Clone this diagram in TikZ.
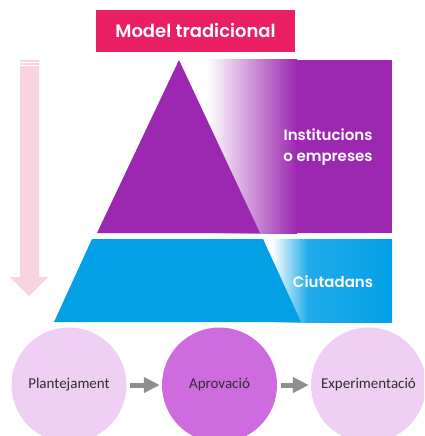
\documentclass[tikz,border=0pt]{standalone}
\usepackage{fontspec}
\setmainfont{Carlito}
\newfontfamily\headfont{Poppins}[BoldFont={Poppins SemiBold}]
\usetikzlibrary{arrows.meta}
\definecolor{titlepink}{HTML}{E91E63}
\definecolor{purp}{HTML}{9C27B0}
\definecolor{blu}{HTML}{03A0E6}
\definecolor{lblu}{HTML}{22ABE9}
\definecolor{pinkarrow}{HTML}{F9D3DF}
\definecolor{clight}{HTML}{EFCFF4}
\definecolor{cmid}{HTML}{CE6CDF}
\definecolor{garr}{HTML}{8E8E8E}
\definecolor{txt}{HTML}{2E2E2E}
\tikzset{
  headlabel/.style={text=white, font=\headfont\bfseries\fontsize{15}{21}\selectfont, align=center, inner sep=0pt},
  stepcircle/.style={circle, minimum size=115pt, inner sep=0pt, text=txt, font=\fontsize{15}{18}\selectfont},
  garrow/.style={draw=garr, line width=5pt, -{Triangle[length=16pt,width=15pt]}, shorten <=3.5pt, shorten >=2pt}
}
\begin{document}
\begin{tikzpicture}[x=1pt,y=-1pt]
\useasboundingbox (0,0) rectangle (424,436);
\clip (0,0) rectangle (424,436);
% title
\node[fill=titlepink, minimum width=199pt, minimum height=42pt, inner sep=0pt,
      text=white, font=\headfont\bfseries\fontsize{18}{20}\selectfont] (title) at (195.5,31) {Model tradicional};
% pink down arrow
\fill[pinkarrow] (20,60) -- (39,60) -- (39,277) -- (48,277) -- (29,296) -- (10,277) -- (20,277) -- cycle;
\draw[white, line width=0.7pt] (20,62) -- (39,62) (20,65.5) -- (39,65.5);
% purple gradient band
\shade[left color=white, right color=purp] (207,60) rectangle (297,233);
\fill[purp] (296.5,60) rectangle (392,233);
% blue gradient band
\shade[left color=white, right color=lblu] (272,239) rectangle (308,322);
\shade[left color=lblu, right color=blu] (307.5,239) rectangle (392,322);
% pyramid
\fill[purp] (179,60) -- (260,233) -- (97,233) -- cycle;
\fill[blu] (92,239) -- (263,239) -- (301,322) -- (54,322) -- cycle;
% labels
\node[headlabel] (inst) at (328,147.5) {Institucions\\o empreses};
\node[headlabel] (ciut) at (333,282) {Ciutadans};
% circles
\node[stepcircle, fill=clight] (p) at (69,385) {Plantejament};
\node[stepcircle, fill=cmid] (a) at (219.5,385) {Aprovació};
\node[stepcircle, fill=clight] (e) at (368.5,385) {Experimentació};
\draw[garrow] (p) -- (a);
\draw[garrow] (a) -- (e);
\end{tikzpicture}
\end{document}
